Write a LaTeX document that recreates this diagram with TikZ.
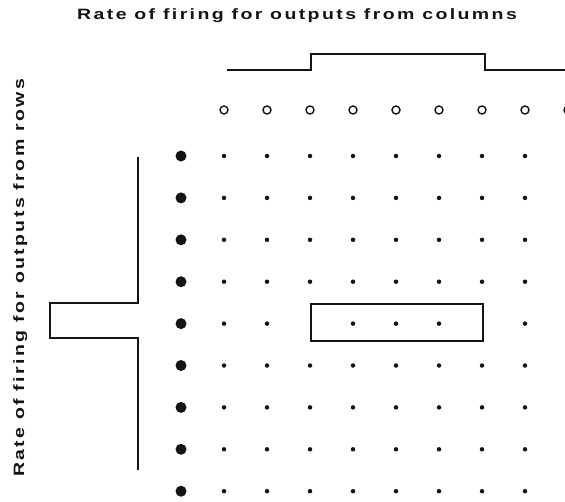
\documentclass[tikz,border=0pt]{standalone}
\usepackage{xcolor}
\usepackage{fontspec}
\usepackage{tikz}
\usetikzlibrary{positioning}
\newfontfamily\widesans[FakeStretch=1.3, LetterSpace=16]{Liberation Sans}
\definecolor{inkblack}{RGB}{20,20,20}
\tikzset{
  rowdot/.style={circle, fill=inkblack, inner sep=0pt, minimum size=11pt},
  celldot/.style={circle, fill=inkblack, inner sep=0pt, minimum size=4.5pt},
  coldot/.style={circle, draw=inkblack, line width=1.4pt, inner sep=0pt,
    minimum size=8pt},
  trace/.style={line width=1.8pt, color=inkblack, line join=miter},
  axislabel/.style={font=\fontsize{15}{18}\selectfont\widesans\bfseries,
    text=inkblack, inner sep=0pt, anchor=base}
}

\begin{document}
\begin{tikzpicture}[x=1pt, y=-1pt]
  \useasboundingbox (0,0) rectangle (565,501);
  \clip (0,0) rectangle (565,501);
  % Axis titles
  \node[axislabel] (coltitle) at (297,19.5) {Rate of firing for outputs from columns};
  \node[axislabel, rotate=90] (rowtitle) at (24,278) {Rate of firing for outputs from rows};
  % Column outputs
  \foreach \j in {1,...,9}
    \node[coldot] (c\j) at ({181+43*\j},110) {};
  % Row outputs and cells
  \foreach \i in {1,...,9}{
    \node[rowdot] (r\i) at (181,{156+41.9*(\i-1)}) {};
    \foreach \j in {1,...,9}{
      \pgfmathtruncatemacro{\onedge}{(\i==5)&&((\j==3)||(\j==7))}
      \ifnum\onedge=0
        \node[celldot] (d\i-\j) at ({181+43*\j},{156+41.9*(\i-1)}) {};
      \fi
    }
  }
  % Active cells in row 5
  \draw[trace] (311,304) rectangle (483,341);
  % Firing rate of the columns
  \draw[trace] (227,70) -| (311,54) -| (485,70) -- (570,70);
  % Firing rate of the rows
  \draw[trace] (138,157) -- (138,303) -| (50,338) -- (138,338) -- (138,470);
\end{tikzpicture}
\end{document}
